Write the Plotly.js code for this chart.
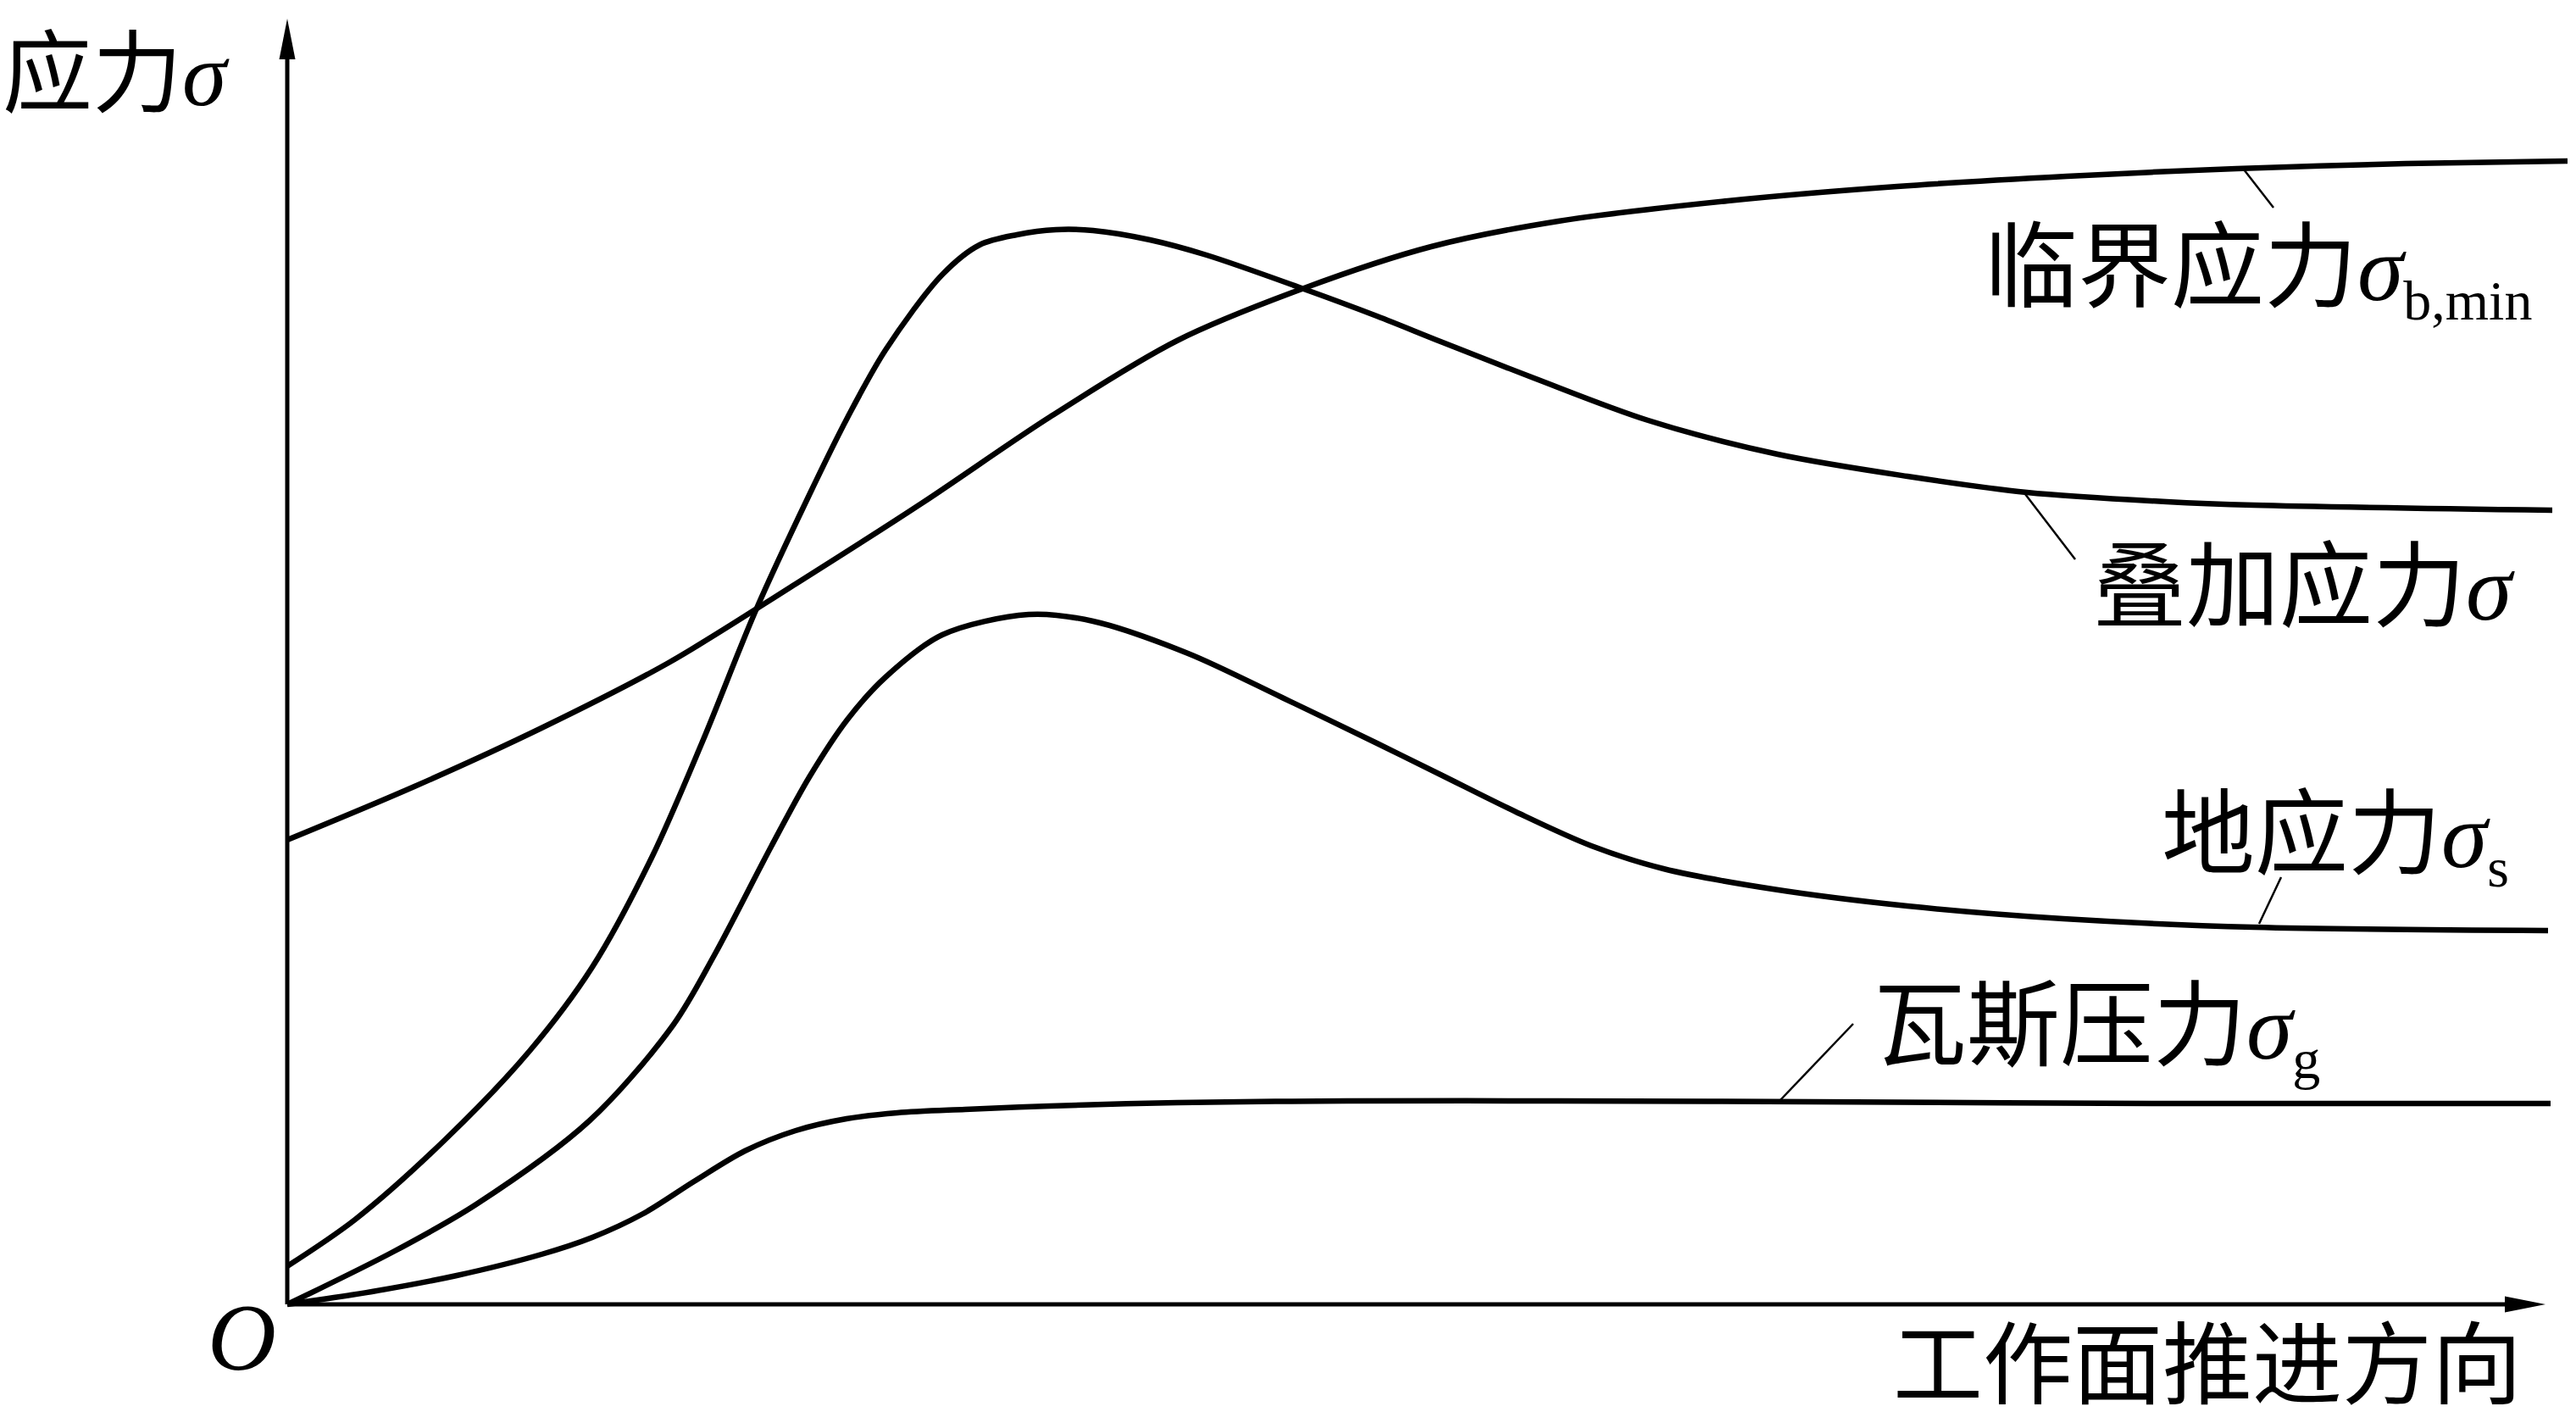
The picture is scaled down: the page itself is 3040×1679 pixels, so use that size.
<!DOCTYPE html>
<html><head><meta charset="utf-8">
<script src="https://cdn.plot.ly/plotly-3.0.1.min.js"></script>
<style>html,body{margin:0;padding:0;background:#fff}</style>
</head><body>
<div id="chart" style="width:3040px;height:1679px"></div>
<script>
// Positions along the working-face advance direction (arbitrary units, origin = O)
const xCritical = [0,150,300,450,600,750,900,1050,1200,1350,1500,1700,1900,2100,2300,2500,2691];
const yCritical = [548,611,680,757,850,946,1047,1137,1199,1248,1278,1302,1319,1331,1340,1346,1349];

const xSuper = [0,80,187,286,360,430,490,553,616,661,706,773,817,861,907,951,1018,1085,1197,1286,1361,1471,1606,1759,1912,2053,2218,2321,2673];
const ySuper = [45,100,195,299,398,527,664,819,955,1046,1126,1215,1250,1262,1268,1267,1256,1238,1199,1166,1136,1093,1043,1003,977,958,947,943,937];

const xGround = [0,125,223,357,455,504,571,616,661,706,773,875,951,1063,1174,1286,1361,1450,1539,1624,1753,1912,2096,2321,2668];
const yGround = [0,62,118,217,329,412,540,622,690,740,790,814,806,768,716,662,625,581,541,514,490,470,455,445,441];

const xGas = [0,100,200,300,360,420,480,540,600,660,720,800,900,1050,1250,1500,1800,2200,2671];
const yGas = [0,15,34,59,79,107,145,181,205,219,226,230,234,238,240,240,239,237,237];

// Text
const yAxisLabel = '应力';
const xAxisLabel = '工作面推进方向';
const originLabel = 'O';
const seriesNames = ['临界应力', '叠加应力', '地应力', '瓦斯压力'];
const seriesSubs = ['b,min', '', 's', 'g'];

const SERIF = 'Liberation Serif';
const CJK = 'Noto Sans CJK SC';
const sig = '<span style="font-family:' + SERIF + ';font-style:italic">σ</span>';
function subTxt(s){ return s ? '<sub><span style="font-family:' + SERIF + ';font-size:66px">' + s + '</span></sub>' : ''; }

const lineStyle = {color:'#000', width:6.5, shape:'spline', smoothing:0.9};
const traces = [
  {x:xCritical, y:yCritical, name:seriesNames[0]},
  {x:xSuper, y:ySuper, name:seriesNames[1]},
  {x:xGround, y:yGround, name:seriesNames[2]},
  {x:xGas, y:yGas, name:seriesNames[3]}
].map(t => Object.assign(t, {type:'scatter', mode:'lines', line:lineStyle, hoverinfo:'skip', cliponaxis:false}));

// axis extents (same units as data)
const xTip = 2665, yTip = 1517, headLen = 48, headHalf = 9.5;

const shapes = [
  {type:'line', x0:0, y0:0, x1:0, y1:yTip-headLen+4, line:{color:'#000', width:5}},
  {type:'line', x0:0, y0:0, x1:xTip-headLen+4, y1:0, line:{color:'#000', width:5}},
  {type:'path', path:`M0,${yTip} L${-headHalf},${yTip-headLen} L${headHalf},${yTip-headLen} Z`, fillcolor:'#000', line:{width:0}},
  {type:'path', path:`M${xTip},0 L${xTip-headLen},${-headHalf} L${xTip-headLen},${headHalf} Z`, fillcolor:'#000', line:{width:0}},
  // leader lines
  {type:'line', x0:2309, y0:1339, x1:2344, y1:1294, line:{color:'#000', width:2.5}},
  {type:'line', x0:2051, y0:956, x1:2110, y1:879, line:{color:'#000', width:2.5}},
  {type:'line', x0:2327, y0:449, x1:2353, y1:504, line:{color:'#000', width:2.5}},
  {type:'line', x0:1762, y0:241, x1:1848, y1:331, line:{color:'#000', width:2.5}}
];

const fontBase = {family:CJK, size:110, color:'#000'};
const edgeFont = {family:CJK, size:106, color:'#000'};
const annotations = [
  {x:-337, y:1461, xanchor:'left', yanchor:'middle', text:yAxisLabel + sig, font:edgeFont},
  {x:-54, y:-39, xanchor:'center', yanchor:'middle', text:'<i>' + originLabel + '</i>', font:{family:SERIF, size:112, color:'#000'}},
  {x:2266, y:-63, xanchor:'center', yanchor:'middle', text:xAxisLabel, font:edgeFont},
  {x:2002, y:1231, xanchor:'left', yanchor:'middle', text:seriesNames[0] + sig + subTxt(seriesSubs[0])},
  {x:2130, y:856, xanchor:'left', yanchor:'middle', text:seriesNames[1] + sig + subTxt(seriesSubs[1])},
  {x:2211, y:562, xanchor:'left', yanchor:'middle', text:seriesNames[2] + sig + subTxt(seriesSubs[2])},
  {x:1871, y:336, xanchor:'left', yanchor:'middle', text:seriesNames[3] + sig + subTxt(seriesSubs[3])}
].map(a => Object.assign({xref:'x', yref:'y', showarrow:false, font:fontBase, borderpad:0}, a));

const layout = {
  width:3040, height:1679,
  margin:{l:0, r:0, t:0, b:0},
  paper_bgcolor:'#fff', plot_bgcolor:'#fff',
  showlegend:false,
  xaxis:{range:[-339, 2701], visible:false, fixedrange:true},
  yaxis:{range:[-140, 1539], visible:false, fixedrange:true},
  shapes:shapes,
  annotations:annotations
};

Plotly.newPlot('chart', traces, layout, {staticPlot:true, displayModeBar:false});
</script>
</body></html>
